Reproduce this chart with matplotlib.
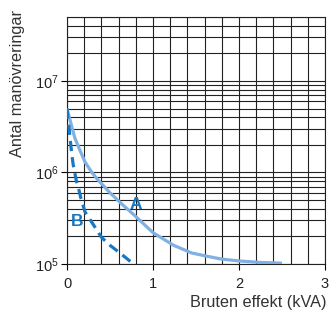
import numpy as np
import matplotlib
matplotlib.use('Agg')
from matplotlib import pyplot as plt
from matplotlib import ticker

plt.rcParams['font.family'] = ['Liberation Sans', 'DejaVu Sans']

# curve A (solid, light blue)
a_x = [0.0, 0.04, 0.09, 0.15, 0.21, 0.28, 0.35, 0.5, 0.64, 0.8, 1.0, 1.24, 1.45, 1.62, 1.8, 2.0, 2.25, 2.5]
a_y = [5.0e6, 3.6e6, 2.4e6, 1.75e6, 1.3e6, 1.03e6, 8.5e5, 6.0e5, 4.5e5, 3.3e5, 2.2e5, 1.6e5, 1.32e5,
       1.22e5, 1.13e5, 1.08e5, 1.04e5, 1.02e5]

# curve B (dashed, dark blue)
b_x = [0.0, 0.02, 0.035, 0.055, 0.073, 0.11, 0.13, 0.16, 0.21, 0.3, 0.4, 0.5, 0.58, 0.67, 0.75, 0.77]
b_y = [5.0e6, 3.3e6, 2.4e6, 1.6e6, 1.2e6, 8.0e5, 7.0e5, 5.3e5, 3.7e5, 2.75e5, 1.96e5, 1.6e5, 1.4e5,
       1.2e5, 1.04e5, 1.0e5]

x_ticks = [0, 1, 2, 3]
y_ticks = [1e5, 1e6, 1e7]

light_blue = '#80b1e2'
dark_blue = '#1a78c2'

fig = plt.figure(figsize=(3.3, 3.11), dpi=100)
ax = fig.add_axes([67 / 330, 1 - 264 / 311, 258 / 330, 247 / 311])

ax.set_yscale('log')
ax.set_xlim(0, 3)
ax.set_ylim(1e5, 5e7)

# grid lines
for gx in np.arange(0, 3.01, 0.2):
    ax.axvline(gx, color='#222222', lw=0.8, zorder=1)
for dec in [1e5, 1e6, 1e7]:
    for m in range(1, 10):
        v = m * dec
        if v <= 5e7:
            ax.axhline(v, color='#222222', lw=0.8, zorder=1)

ax.plot(a_x, a_y, color=light_blue, lw=2.3, solid_capstyle='butt', zorder=3)
ax.plot(b_x, b_y, color=dark_blue, lw=2.3, dashes=(3.2, 1.9), zorder=3)

ax.text(0.8, 4.5e5, 'A', color=dark_blue, fontsize=12.5, fontweight='bold', ha='center', va='center')
ax.text(0.12, 2.9e5, 'B', color=dark_blue, fontsize=12.5, fontweight='bold', ha='center', va='center')

ax.set_xticks(x_ticks)
ax.set_xticklabels([str(t) for t in x_ticks])
ax.set_yticks(y_ticks)
ax.yaxis.set_major_formatter(ticker.FuncFormatter(
    lambda v, p: r'$\mathregular{10^{%d}}$' % int(round(np.log10(v)))))
ax.yaxis.set_minor_locator(ticker.NullLocator())
ax.tick_params(axis='both', direction='out', length=4, width=0.8, labelsize=10.5, labelcolor='#222222')
ax.tick_params(axis='x', pad=5.5)
ax.tick_params(axis='y', pad=2)

for s in ax.spines.values():
    s.set_linewidth(0.8)
    s.set_color('#222222')

fig.text(327 / 330, 1 - 303 / 311, 'Bruten effekt (kVA)', ha='right', va='center', fontsize=11.7, color='#333333')
fig.text(18 / 330, 1 - 10 / 311, 'Antal manövreringar', rotation=90, ha='center', va='top', fontsize=11.7,
         color='#333333')

fig.savefig('out.png', dpi=100)
